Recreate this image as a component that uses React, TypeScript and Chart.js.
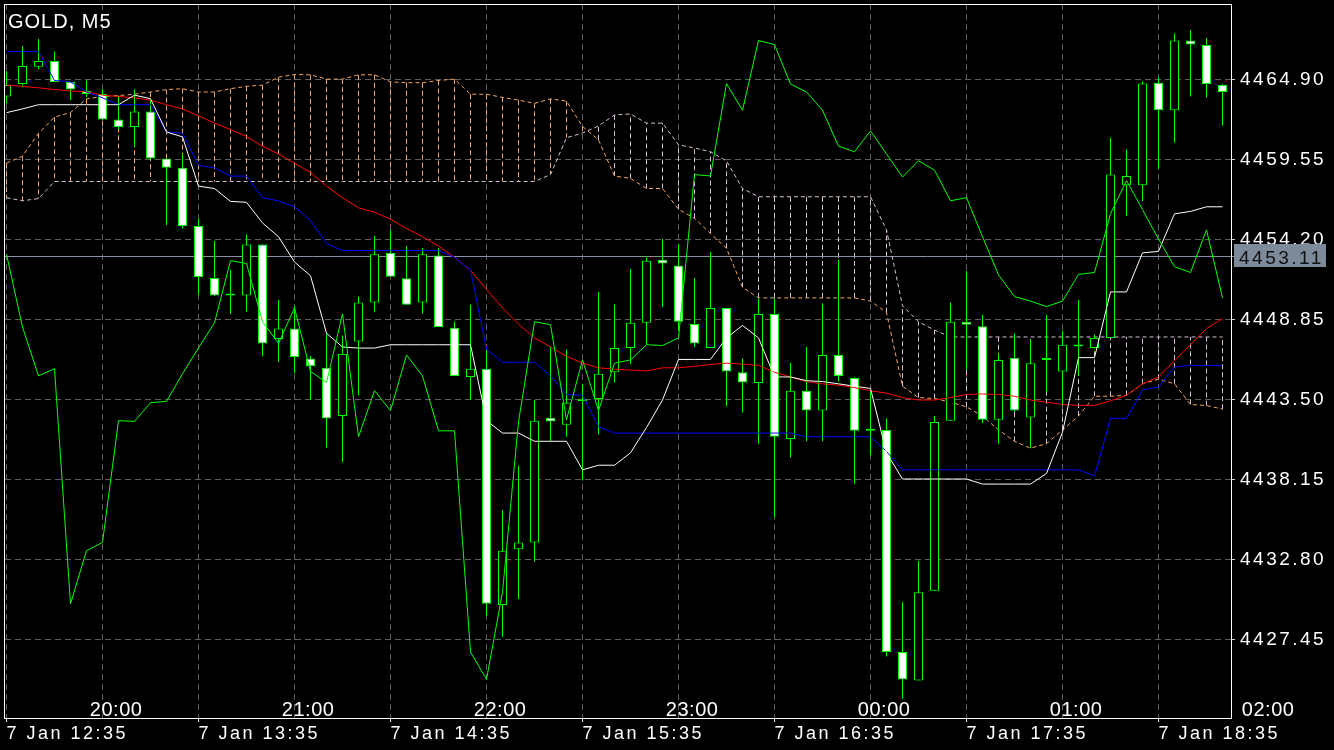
import React, { useEffect, useRef } from 'react';
import { Chart, registerables } from 'chart.js';

Chart.register(...registerables);
Chart.defaults.font.family = '"Liberation Sans", Arial, sans-serif';

// ---- data (M5 candles, 7 Jan 12:35 .. 18:55) ----
const opens = [4463.76, 4464.60, 4465.75, 4466.13, 4464.74, 4464.13, 4463.93, 4462.23, 4461.72, 4462.75,
  4459.61, 4459.00, 4455.11, 4451.63, 4450.46, 4450.46, 4453.87, 4447.56, 4448.25, 4446.25,
  4445.63, 4442.41, 4447.38, 4450.00, 4453.31, 4451.62, 4450.00, 4453.13, 4448.31, 4445.02,
  4445.57, 4429.78, 4433.50, 4433.96, 4442.30, 4441.83, 4443.39, 4443.55, 4445.33, 4446.96,
  4448.64, 4452.85, 4452.46, 4448.56, 4446.96, 4449.63, 4445.33, 4444.62, 4449.23, 4440.88,
  4444.10, 4442.77, 4446.49, 4444.95, 4441.42, 4441.48, 4426.64, 4424.74, 4430.73, 4442.10,
  4448.71, 4448.40, 4442.16, 4446.31, 4442.31, 4446.16, 4445.39, 4447.06, 4446.96, 4447.63,
  4457.83, 4457.83, 4464.68, 4462.84, 4467.50, 4467.20, 4464.53];
const highs = [4465.47, 4467.14, 4467.60, 4466.77, 4464.74, 4464.83, 4464.22, 4463.76, 4464.22, 4463.60,
  4459.61, 4459.92, 4455.58, 4454.11, 4452.17, 4454.54, 4453.87, 4450.16, 4449.76, 4446.42,
  4447.96, 4447.79, 4450.39, 4454.45, 4454.85, 4453.77, 4453.64, 4453.64, 4448.71, 4449.84,
  4446.86, 4436.13, 4439.09, 4443.48, 4447.02, 4446.86, 4444.55, 4450.70, 4449.87, 4452.24,
  4453.00, 4454.24, 4453.87, 4451.63, 4453.37, 4449.63, 4446.25, 4450.24, 4450.23, 4445.95,
  4447.02, 4449.94, 4452.85, 4445.00, 4444.10, 4442.25, 4429.96, 4432.72, 4442.41, 4450.00,
  4452.10, 4449.16, 4446.56, 4447.94, 4447.49, 4449.16, 4448.09, 4450.16, 4447.85, 4460.99,
  4460.23, 4464.74, 4465.05, 4467.97, 4468.21, 4467.66, 4464.59];
const lows = [4463.29, 4464.50, 4465.60, 4464.73, 4463.53, 4463.73, 4462.19, 4461.52, 4460.39, 4459.58,
  4455.18, 4454.94, 4450.57, 4450.43, 4449.23, 4449.38, 4446.40, 4446.02, 4445.29, 4443.48,
  4440.28, 4439.34, 4443.79, 4449.38, 4451.70, 4449.84, 4449.25, 4448.36, 4445.09, 4443.48,
  4429.05, 4427.66, 4430.19, 4432.67, 4440.72, 4441.02, 4438.10, 4441.18, 4444.65, 4445.89,
  4447.17, 4449.70, 4448.09, 4447.02, 4446.96, 4443.08, 4442.65, 4440.56, 4435.66, 4439.64,
  4440.72, 4440.72, 4444.71, 4437.89, 4439.79, 4426.34, 4423.51, 4424.74, 4430.73, 4442.10,
  4445.49, 4441.95, 4440.56, 4442.68, 4440.28, 4444.02, 4443.15, 4445.15, 4446.92, 4447.63,
  4455.78, 4456.78, 4458.92, 4460.69, 4463.76, 4463.70, 4461.82];
const closes = [4464.53, 4465.80, 4466.13, 4464.73, 4464.22, 4463.93, 4462.23, 4461.72, 4462.75, 4459.61,
  4459.00, 4455.11, 4451.70, 4450.46, 4450.46, 4453.87, 4447.26, 4448.25, 4446.36, 4445.73,
  4442.25, 4446.56, 4450.00, 4453.22, 4451.71, 4449.84, 4453.22, 4448.36, 4445.09, 4445.57,
  4429.87, 4433.41, 4433.96, 4442.10, 4442.05, 4443.30, 4443.39, 4445.23, 4446.96, 4448.64,
  4452.79, 4452.60, 4448.71, 4447.26, 4449.63, 4445.39, 4444.65, 4449.23, 4441.02, 4444.10,
  4442.77, 4446.49, 4445.09, 4441.42, 4441.42, 4426.64, 4424.81, 4430.64, 4442.01, 4448.71,
  4448.51, 4442.16, 4446.16, 4442.77, 4445.94, 4446.16, 4447.17, 4447.12, 4447.63, 4458.54,
  4458.45, 4464.62, 4462.84, 4467.50, 4467.23, 4464.59, 4464.06];
// closes of the bars after the visible window (they feed the lagging span)
const futureCloses = [4462.84, 4460.44, 4460.07, 4461.46, 4459.92, 4458.38, 4459.46, 4458.84, 4456.79, 4457.00,
  4454.39, 4451.84, 4450.39, 4450.09, 4449.72, 4450.09, 4451.87, 4452.00, 4455.92, 4458.14,
  4456.20, 4454.23, 4452.39, 4452.00, 4454.85, 4450.30];
const tenkan = [4462.68, 4462.93, 4463.21, 4463.21, 4463.21, 4463.21, 4463.21, 4463.21, 4463.85, 4463.61,
  4461.39, 4461.06, 4457.77, 4457.61, 4456.75, 4456.69, 4455.31, 4454.39, 4452.70, 4451.78,
  4447.94, 4447.02, 4446.95, 4446.95, 4447.17, 4447.17, 4447.17, 4447.17, 4447.17, 4447.17,
  4442.10, 4441.27, 4441.27, 4440.72, 4440.72, 4440.72, 4438.81, 4439.12, 4439.12, 4439.95,
  4441.64, 4443.48, 4446.19, 4446.19, 4446.19, 4447.63, 4448.46, 4447.63, 4445.02, 4445.02,
  4444.77, 4444.71, 4444.56, 4444.40, 4444.25, 4439.95, 4438.20, 4438.20, 4438.20, 4438.20,
  4438.20, 4437.86, 4437.86, 4437.86, 4437.86, 4438.57, 4441.33, 4446.31, 4446.31, 4450.70,
  4450.70, 4453.31, 4453.41, 4455.92, 4456.08, 4456.39, 4456.39];
const kijun = [4466.77, 4466.77, 4466.77, 4464.83, 4464.74, 4464.07, 4463.67, 4463.21, 4463.21, 4463.21,
  4461.39, 4461.30, 4459.15, 4459.00, 4458.44, 4458.44, 4457.00, 4456.78, 4456.39, 4455.46,
  4453.93, 4453.47, 4453.47, 4453.47, 4453.47, 4453.47, 4453.47, 4453.47, 4453.01, 4452.15,
  4446.86, 4446.00, 4446.00, 4446.00, 4445.08, 4443.85, 4443.79, 4441.70, 4441.27, 4441.27,
  4441.27, 4441.27, 4441.27, 4441.27, 4441.27, 4441.27, 4441.27, 4441.27, 4441.27, 4441.27,
  4441.02, 4441.02, 4441.02, 4441.02, 4441.02, 4440.04, 4438.81, 4438.81, 4438.81, 4438.81,
  4438.81, 4438.81, 4438.81, 4438.81, 4438.81, 4438.81, 4438.81, 4438.81, 4438.41, 4442.25,
  4442.25, 4444.16, 4444.34, 4445.69, 4445.79, 4445.79, 4445.79];
const movingAvg = [4464.53, 4464.43, 4464.34, 4464.22, 4464.13, 4464.07, 4463.85, 4463.76, 4463.67, 4463.51,
  4463.21, 4462.93, 4462.47, 4461.98, 4461.55, 4461.09, 4460.44, 4459.92, 4459.30, 4458.69,
  4457.77, 4457.00, 4456.32, 4456.02, 4455.56, 4454.94, 4454.39, 4453.77, 4453.01, 4452.15,
  4450.86, 4449.63, 4448.55, 4447.63, 4447.02, 4446.40, 4445.94, 4445.63, 4445.54, 4445.48,
  4445.42, 4445.63, 4445.63, 4445.73, 4445.85, 4445.94, 4445.88, 4445.79, 4445.33, 4445.02,
  4444.71, 4444.56, 4444.47, 4444.31, 4444.10, 4443.94, 4443.64, 4443.48, 4443.48, 4443.64,
  4443.85, 4443.88, 4443.85, 4443.73, 4443.48, 4443.33, 4443.18, 4443.12, 4443.12, 4443.42,
  4443.79, 4444.56, 4445.02, 4446.10, 4447.17, 4448.25, 4448.92];
const spanA = [4459.31, 4459.77, 4461.30, 4462.38, 4462.69, 4463.60, 4463.76, 4463.82, 4463.91, 4464.06,
  4464.22, 4464.28, 4464.06, 4464.06, 4464.28, 4464.44, 4464.52, 4465.05, 4465.23, 4465.21,
  4464.92, 4464.92, 4465.21, 4465.21, 4464.74, 4464.68, 4464.68, 4464.83, 4464.92, 4463.91,
  4463.91, 4463.70, 4463.52, 4463.30, 4463.60, 4463.45, 4461.76, 4460.86, 4458.44, 4458.29,
  4457.61, 4457.61, 4456.23, 4455.62, 4454.60, 4453.62, 4451.01, 4450.30, 4450.30, 4450.30,
  4450.30, 4450.30, 4450.30, 4450.30, 4450.09, 4449.32, 4444.40, 4443.64, 4443.58, 4443.33,
  4443.02, 4442.41, 4441.48, 4440.72, 4440.26, 4440.56, 4441.48, 4442.41, 4443.73, 4443.73,
  4443.79, 4444.56, 4444.87, 4444.56, 4443.18, 4443.11, 4442.87];
const spanB = [4457.00, 4456.79, 4456.94, 4458.08, 4458.08, 4458.08, 4458.08, 4458.08, 4458.08, 4458.08,
  4458.08, 4458.08, 4458.08, 4458.08, 4458.08, 4458.08, 4458.08, 4458.08, 4458.08, 4458.08,
  4458.08, 4458.08, 4458.08, 4458.08, 4458.08, 4458.08, 4458.08, 4458.08, 4458.08, 4458.08,
  4458.08, 4458.08, 4458.08, 4458.08, 4458.54, 4461.00, 4461.32, 4461.79, 4462.53, 4462.59,
  4461.98, 4461.98, 4460.53, 4460.32, 4460.07, 4459.46, 4457.61, 4457.06, 4457.06, 4457.06,
  4457.06, 4457.06, 4457.06, 4457.06, 4457.06, 4454.85, 4449.78, 4448.71, 4448.15, 4447.69,
  4447.69, 4447.69, 4447.69, 4447.69, 4447.69, 4447.69, 4447.69, 4447.69, 4447.69, 4447.69,
  4447.69, 4447.69, 4447.69, 4447.69, 4447.69, 4447.69, 4447.69];

const priceTicks = [4427.45, 4432.80, 4438.15, 4443.50, 4448.85, 4454.20, 4459.55, 4464.90];
const gridBars = [0, 6, 12, 18, 24, 30, 36, 42, 48, 54, 60, 66, 72];
const labelBars = [0, 12, 24, 36, 48, 60, 72];
const dateLabels = ['7 Jan 12:35', '7 Jan 13:35', '7 Jan 14:35', '7 Jan 15:35', '7 Jan 16:35', '7 Jan 17:35', '7 Jan 18:35'];
const upperLabels = ['20:00', '21:00', '22:00', '23:00', '00:00', '01:00', '02:00'];
const upperLabelBars = [6.85, 18.85, 30.85, 42.85, 54.85, 66.85, 78.85];
const bidPrice = 4453.11;
const symbolTitle = 'GOLD, M5';

const X_MIN = -0.09375;
const X_MAX = 76.53125;
const Y_MIN = 4422.23;
const Y_MAX = 4469.94;

const laggingSpan = [...closes.slice(26), ...futureCloses];

const lineSet = (label: string, values: number[], color: string, order: number, dash?: number[]) => ({
  type: 'line' as const,
  label,
  data: values.map((v, i) => ({ x: i, y: v })),
  borderColor: color,
  backgroundColor: color,
  borderWidth: 1,
  pointRadius: 0,
  tension: 0,
  fill: false,
  borderDash: dash || [],
  order,
});

const mtPlugin = {
  id: 'mtOverlay',
  beforeDraw(chart: any) {
    const ctx = chart.ctx;
    ctx.save();
    ctx.fillStyle = '#000000';
    ctx.fillRect(0, 0, chart.width, chart.height);
    ctx.restore();
    ctx.letterSpacing = '2.5px';
  },
  beforeDatasetsDraw(chart: any) {
    const { ctx, chartArea, scales } = chart;
    const x = scales.x;
    const y = scales.y;
    ctx.save();
    ctx.beginPath();
    ctx.rect(chartArea.left, chartArea.top, chartArea.right - chartArea.left, chartArea.bottom - chartArea.top);
    ctx.clip();
    ctx.lineWidth = 1;
    ctx.setLineDash([5, 3]);
    spanA.forEach((a, i) => {
      const b = spanB[i];
      const px = x.getPixelForValue(i);
      ctx.strokeStyle = a >= b ? '#f4a460' : '#d8bfd8';
      ctx.beginPath();
      ctx.moveTo(px, y.getPixelForValue(a));
      ctx.lineTo(px, y.getPixelForValue(b));
      ctx.stroke();
    });
    ctx.restore();
    ctx.save();
    ctx.setLineDash([]);
    ctx.lineWidth = 1;
    ctx.strokeStyle = '#8792a0';
    const by = Math.round(y.getPixelForValue(bidPrice)) + 0.5;
    ctx.beginPath();
    ctx.moveTo(chartArea.left, by);
    ctx.lineTo(chartArea.right + 4, by);
    ctx.stroke();
    ctx.restore();
  },
  afterDraw(chart: any) {
    const { ctx, chartArea, scales } = chart;
    const x = scales.x;
    const y = scales.y;
    ctx.save();
    ctx.setLineDash([]);
    ctx.strokeStyle = '#ffffff';
    ctx.lineWidth = 1;
    ctx.strokeRect(chartArea.left - 0.5, chartArea.top + 0.5, chartArea.right - chartArea.left + 1, chartArea.bottom - chartArea.top);

    ctx.fillStyle = '#ffffff';
    ctx.textBaseline = 'alphabetic';
    ctx.textAlign = 'left';
    ctx.letterSpacing = '1px';
    ctx.font = '20px "Liberation Sans", Arial, sans-serif';
    ctx.fillText(symbolTitle, 8, 28);

    ctx.textAlign = 'center';
    ctx.letterSpacing = '0.5px';
    upperLabels.forEach((t, k) => {
      ctx.fillText(t, x.getPixelForValue(upperLabelBars[k]), 716);
    });

    const by = Math.round(y.getPixelForValue(bidPrice)) + 0.5;
    ctx.fillStyle = '#7d8a99';
    ctx.fillRect(1234, by - 12.5, 92, 23);
    ctx.fillStyle = '#101010';
    ctx.textAlign = 'left';
    ctx.letterSpacing = '2.5px';
    ctx.font = '19px "Liberation Sans", Arial, sans-serif';
    ctx.fillText(bidPrice.toFixed(2), 1239, by + 7);
    ctx.restore();
  },
};

export default function App() {
  const ref = useRef<HTMLCanvasElement | null>(null);

  useEffect(() => {
    document.body.style.margin = '0';
    document.body.style.background = '#000';
    const canvas = ref.current;
    if (!canvas) return;
    const idx = closes.map((_, i) => i);
    const chart = new Chart(canvas, {
      type: 'bar',
      data: {
        datasets: [
          lineSet('Senkou Span A', spanA, '#f4a460', 40, [4, 3]),
          lineSet('Senkou Span B', spanB, '#d8bfd8', 41, [4, 3]),
          {
            type: 'bar',
            label: 'wicks',
            data: idx.map((i) => ({ x: i, y: [lows[i], highs[i]] })),
            backgroundColor: '#00ff00',
            borderWidth: 0,
            barThickness: 1,
            grouped: false,
            inflateAmount: 0,
            order: 30,
          } as any,
          {
            type: 'bar',
            label: 'bodies',
            data: idx.map((i) => ({ x: i, y: [opens[i], closes[i]] })),
            backgroundColor: idx.map((i) => (closes[i] < opens[i] ? '#ffffff' : '#000000')),
            borderColor: '#00ff00',
            borderWidth: 1,
            borderSkipped: false,
            barThickness: 9,
            minBarLength: 2,
            grouped: false,
            inflateAmount: 0,
            order: 29,
          } as any,
          lineSet('MA', movingAvg, '#ff0000', 5),
          lineSet('Kijun-sen', kijun, '#0000ff', 4),
          lineSet('Tenkan-sen', tenkan, '#ffffff', 3),
          lineSet('Chikou Span', laggingSpan, '#00ff00', 2),
        ],
      },
      options: {
        responsive: false,
        animation: false,
        events: [],
        layout: { padding: { left: 5, top: 4, right: 0, bottom: 0 } },
        plugins: { legend: { display: false }, tooltip: { enabled: false }, title: { display: false } },
        scales: {
          x: {
            type: 'linear',
            min: X_MIN,
            max: X_MAX,
            offset: false,
            position: 'bottom',
            afterBuildTicks: (s: any) => {
              s.ticks = gridBars.map((v) => ({ value: v }));
            },
            afterFit: (s: any) => {
              s.height = 32;
              s.paddingLeft = 0;
              s.paddingRight = 0;
            },
            grid: {
              offset: false,
              color: '#5e5e5e',
              lineWidth: 1,
              drawTicks: true,
              tickLength: 4,
              tickColor: (c: any) => (c.tick && labelBars.includes(c.tick.value) ? '#e6e6e6' : 'rgba(0,0,0,0)'),
              tickBorderDash: [],
            },
            border: { display: false, dash: [6, 4] },
            ticks: {
              autoSkip: false,
              maxRotation: 0,
              minRotation: 0,
              align: 'start',
              padding: 1,
              color: '#ffffff',
              font: { size: 18 },
              callback: (v: any) => {
                const k = labelBars.indexOf(Number(v));
                return k >= 0 ? dateLabels[k] : '';
              },
            },
          },
          y: {
            type: 'linear',
            position: 'right',
            min: Y_MIN,
            max: Y_MAX,
            afterBuildTicks: (s: any) => {
              s.ticks = priceTicks.map((v) => ({ value: v }));
            },
            afterFit: (s: any) => {
              s.width = 103;
              s.paddingTop = 0;
              s.paddingBottom = 0;
            },
            grid: {
              offset: false,
              color: '#5e5e5e',
              lineWidth: 1,
              drawTicks: true,
              tickLength: 4,
              tickColor: '#d0d0d0',
              tickBorderDash: [],
            },
            border: { display: false, dash: [6, 4] },
            ticks: {
              color: '#ffffff',
              padding: 5,
              font: { size: 19 },
              callback: (v: any) => Number(v).toFixed(2),
            },
          },
        },
      } as any,
      plugins: [mtPlugin],
    });
    return () => {
      chart.destroy();
    };
  }, []);

  return (
    <div style={{ width: 1334, height: 750, background: '#000' }}>
      <canvas ref={ref} width={1334} height={750} style={{ display: 'block' }} />
    </div>
  );
}
